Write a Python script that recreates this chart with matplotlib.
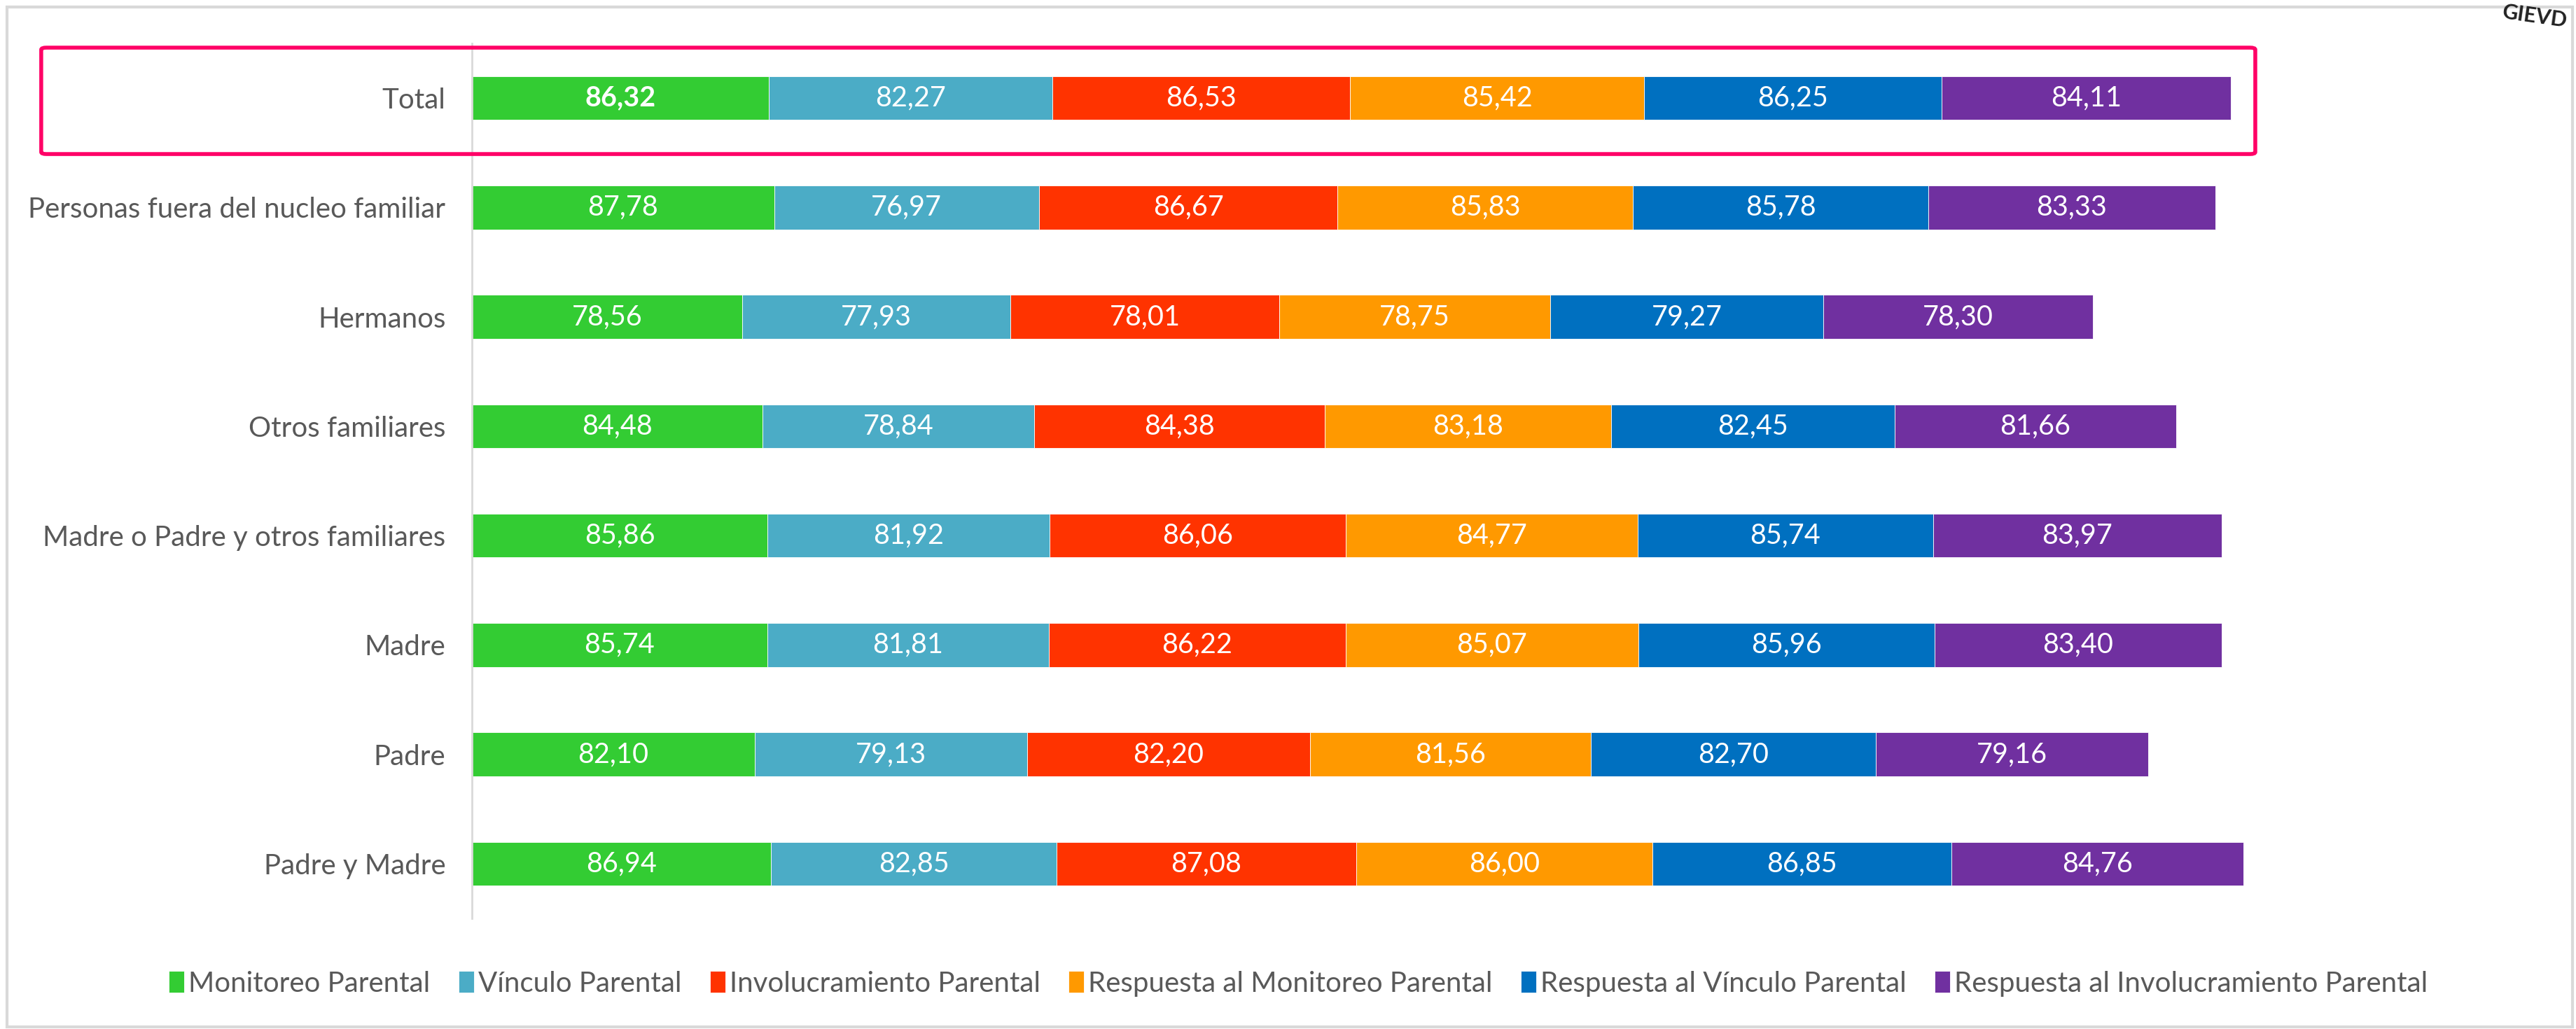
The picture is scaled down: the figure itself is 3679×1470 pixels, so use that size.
import matplotlib.pyplot as plt
from matplotlib.patches import Rectangle, FancyBboxPatch
import numpy as np

plt.rcParams['font.family'] = ['Lato', 'DejaVu Sans']

# categorias (de abajo hacia arriba)
categorias = ['Padre y Madre', 'Padre', 'Madre', 'Madre o Padre y otros familiares',
              'Otros familiares', 'Hermanos', 'Personas fuera del nucleo familiar', 'Total']

series = ['Monitoreo Parental', 'Vínculo Parental', 'Involucramiento Parental',
          'Respuesta al Monitoreo Parental', 'Respuesta al Vínculo Parental',
          'Respuesta al Involucramiento Parental']

monitoreo = [86.94, 82.10, 85.74, 85.86, 84.48, 78.56, 87.78, 86.32]
vinculo = [82.85, 79.13, 81.81, 81.92, 78.84, 77.93, 76.97, 82.27]
involucramiento = [87.08, 82.20, 86.22, 86.06, 84.38, 78.01, 86.67, 86.53]
resp_monitoreo = [86.00, 81.56, 85.07, 84.77, 83.18, 78.75, 85.83, 85.42]
resp_vinculo = [86.85, 82.70, 85.96, 85.74, 82.45, 79.27, 85.78, 86.25]
resp_involucramiento = [84.76, 79.16, 83.40, 83.97, 81.66, 78.30, 83.33, 84.11]

colores = ['#33CC33', '#4BACC6', '#FF3300', '#FF9900', '#0070C0', '#7030A0']

datos = [monitoreo, vinculo, involucramiento, resp_monitoreo, resp_vinculo, resp_involucramiento]

fig = plt.figure(figsize=(36.79, 14.70), dpi=100)
ax = fig.add_axes([0.1832, 0.1075, 0.8019, 0.8503])

y = np.arange(len(categorias))
izq = np.zeros(len(categorias))
for nombre, vals, col in zip(series, datos, colores):
    vals = np.array(vals)
    ax.barh(y, vals, left=izq, height=0.4, color=col, label=nombre,
            edgecolor='white', linewidth=0.6)
    for i, v in enumerate(vals):
        bold = (nombre == 'Monitoreo Parental' and categorias[i] == 'Total')
        ax.text(izq[i] + v / 2, y[i], f'{v:.2f}'.replace('.', ','),
                ha='center', va='center', color='white', fontsize=28.5,
                fontweight='bold' if bold else 'normal')
    izq += vals

ax.set_xlim(0, 600)
ax.set_ylim(-0.5, len(categorias) - 0.5)
ax.set_yticks(y)
ax.set_yticklabels(categorias, fontsize=29, color='#595959')
ax.tick_params(axis='y', length=0, pad=27)
ax.set_xticks([])
for s in ['top', 'right', 'bottom']:
    ax.spines[s].set_visible(False)
ax.spines['left'].set_color('#d9d9d9')
ax.spines['left'].set_linewidth(2)

leg = fig.legend(loc='center', bbox_to_anchor=(0.504, 0.044), ncol=6, frameon=False,
                 fontsize=29, handlelength=0.55, handleheight=0.8,
                 handletextpad=0.15, columnspacing=1.0)
for t in leg.get_texts():
    t.set_color('#595959')

# marco del grafico
fig.patches.append(Rectangle((10 / 3679, 0.002), 3664 / 3679, 0.991,
                             transform=fig.transFigure, fill=False,
                             edgecolor='#d9d9d9', linewidth=3))

# recuadro para Total
fig.patches.append(FancyBboxPatch((0.016, 0.8503), 0.8595, 0.1034,
                                  boxstyle='round,pad=0,rounding_size=0.002',
                                  transform=fig.transFigure, fill=False,
                                  edgecolor='#FF0066', linewidth=4))

fig.text(0.997, 0.984, 'GIEVD', ha='right', va='center', fontsize=22,
         fontweight='bold', color='#222222', rotation=-8)

fig.savefig('out.png', dpi=100)
